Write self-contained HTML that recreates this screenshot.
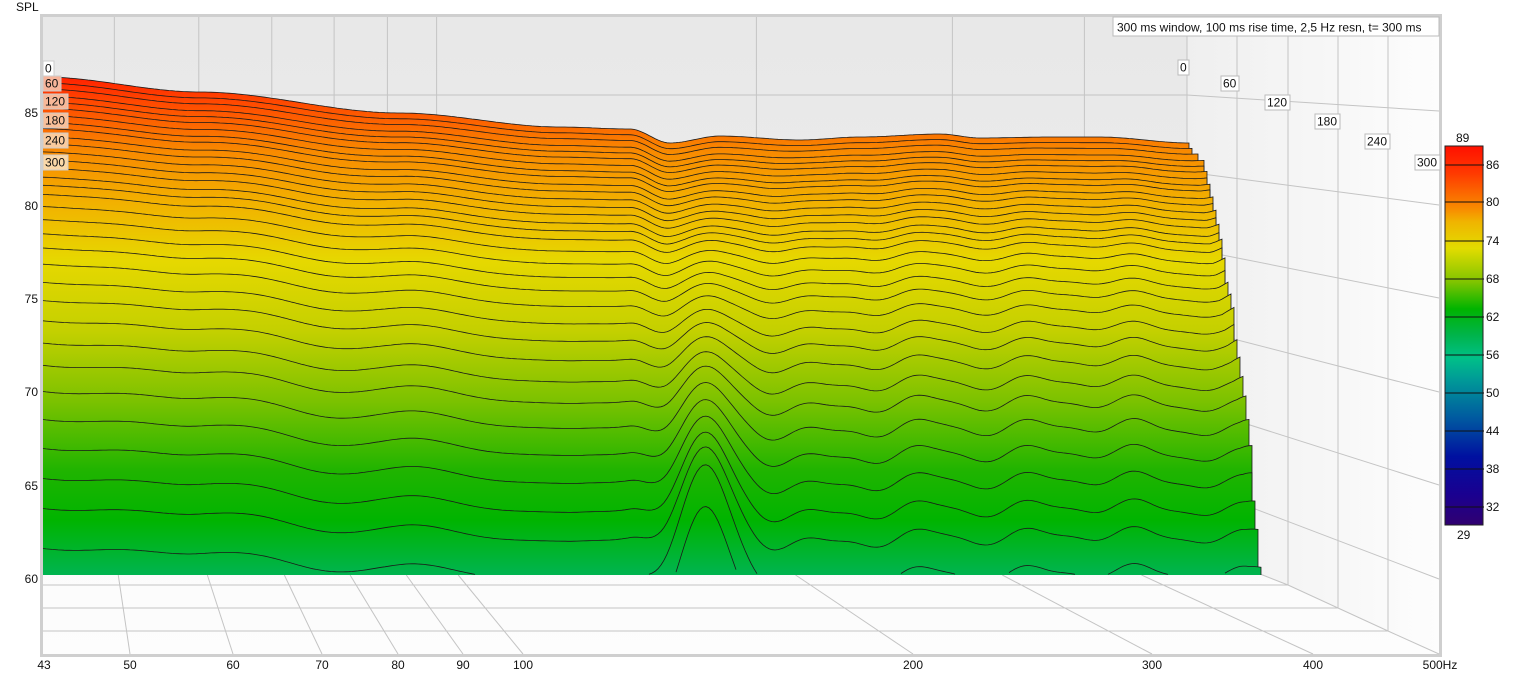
<!DOCTYPE html>
<html><head><meta charset="utf-8"><style>
body{margin:0;background:#fff;width:1516px;height:679px;overflow:hidden;font-family:"Liberation Sans",sans-serif}
svg{position:absolute;left:0;top:0}
text{font-family:"Liberation Sans",sans-serif;font-size:12px;fill:#111}
</style></head><body>
<svg id="s" width="1516" height="679" xmlns="http://www.w3.org/2000/svg">
<defs>
<linearGradient id="sg" gradientUnits="userSpaceOnUse" x1="0" y1="77" x2="0" y2="575">
<stop offset="0" stop-color="#ff2000"/>
<stop offset="0.05" stop-color="#ff4800"/>
<stop offset="0.15" stop-color="#f88a00"/>
<stop offset="0.25" stop-color="#f2b000"/>
<stop offset="0.37" stop-color="#e6d800"/>
<stop offset="0.51" stop-color="#c4d000"/>
<stop offset="0.65" stop-color="#7cc200"/>
<stop offset="0.79" stop-color="#20b400"/>
<stop offset="0.89" stop-color="#00b400"/>
<stop offset="1" stop-color="#00b450"/>
</linearGradient>
<linearGradient id="bw" x1="0" y1="0" x2="0" y2="1"><stop offset="0" stop-color="#e8e8e8"/><stop offset="1" stop-color="#efefef"/></linearGradient>
<linearGradient id="sw" x1="0" y1="0" x2="1" y2="0"><stop offset="0" stop-color="#efefef"/><stop offset="1" stop-color="#fdfdfd"/></linearGradient>
<linearGradient id="fl" x1="0" y1="0" x2="0" y2="1"><stop offset="0" stop-color="#efefef"/><stop offset="1" stop-color="#fdfdfd"/></linearGradient>
<linearGradient id="cb" x1="0" y1="0" x2="0" y2="1">
<stop offset="0" stop-color="#ff1000"/><stop offset="0.07" stop-color="#ff3800"/>
<stop offset="0.17" stop-color="#f89000"/><stop offset="0.2" stop-color="#f0b400"/>
<stop offset="0.27" stop-color="#e2dc00"/><stop offset="0.36" stop-color="#7ec400"/>
<stop offset="0.43" stop-color="#00b400"/><stop offset="0.5" stop-color="#00b44c"/>
<stop offset="0.56" stop-color="#00c088"/><stop offset="0.62" stop-color="#009898"/>
<stop offset="0.72" stop-color="#0058a0"/><stop offset="0.82" stop-color="#0010a0"/>
<stop offset="0.92" stop-color="#1a0090"/><stop offset="1" stop-color="#300070"/>
</linearGradient>
</defs>
<rect x="40" y="14" width="1402" height="643" fill="#cfcfcf"/>
<rect x="43" y="17" width="1396" height="637" fill="url(#fl)"/>
<rect x="43" y="17" width="1144" height="558" fill="url(#bw)"/>
<polygon points="1187,17 1439,17 1439,654 1388,631 1338,608 1288,585 1237,565 1187,545" fill="url(#sw)"/>
<g id="grid" stroke="#c4c4c4" stroke-width="1" fill="none"></g>
<g id="surf"></g>
<g id="lab"></g>
<rect x="1113" y="17" width="326" height="19" fill="#fff" stroke="#bbb"/>
<text x="1117" y="31.5">300 ms window, 100 ms rise time,  2,5 Hz resn, t= 300 ms</text>
<text x="16" y="11">SPL</text>
<g text-anchor="end">
<text x="38" y="117">85</text><text x="38" y="210">80</text><text x="38" y="303">75</text>
<text x="38" y="396">70</text><text x="38" y="490">65</text><text x="38" y="583">60</text>
</g>
<g text-anchor="middle">
<text x="44" y="669">43</text><text x="130" y="669">50</text><text x="233" y="669">60</text>
<text x="322" y="669">70</text><text x="398" y="669">80</text><text x="463" y="669">90</text>
<text x="523" y="669">100</text><text x="913" y="669">200</text><text x="1152" y="669">300</text>
<text x="1313" y="669">400</text><text x="1440" y="669">500Hz</text>
</g>
<rect x="1445" y="146" width="38" height="379" fill="url(#cb)" stroke="#222"/>
<g id="cbl"></g>
</svg>
<script>
var NS="http://www.w3.org/2000/svg";
function el(p,t,a,txt){var e=document.createElementNS(NS,t);for(var k in a)e.setAttribute(k,a[k]);if(txt!==undefined)e.textContent=txt;p.appendChild(e);return e;}
var g=document.getElementById('grid');
[130,233,322,398,463,523,913,1152,1313].forEach(function(x){var xb=43+(x-43)*0.82;el(g,'line',{x1:xb,y1:17,x2:xb,y2:575});});
[1187,1237,1288,1338,1388].forEach(function(x,i){var ye=[545,565,585,608,631][i];el(g,'line',{x1:x,y1:36,x2:x,y2:ye});});
var yf=[111,205,298,392,485],yb=[95,172,248,327,405];
for(var i=0;i<5;i++){el(g,'line',{x1:43,y1:yb[i],x2:1187,y2:yb[i]});el(g,'line',{x1:1187,y1:yb[i],x2:1439,y2:yf[i]});}
el(g,'line',{x1:1187,y1:483,x2:1439,y2:579});
[585,608,631].forEach(function(y,i){el(g,'line',{x1:43,y1:y,x2:[1288,1338,1388][i],y2:y});});
el(g,'polyline',{points:"1187,545 1237,565 1288,585 1338,608 1388,631 1439,654"});
[130,233,322,398,463,523,913,1152,1313].forEach(function(x){el(g,'line',{x1:x,y1:654,x2:43+(x-43)*0.865,y2:575});});
var base=[[43,77],[200,92],[400,113],[560,127],[630,129],[670,143],[720,136],[800,140],[860,137],[940,134],[980,138],[1050,137],[1100,137],[1190,143],[1270,146]];
function B(x){for(var i=1;i<base.length;i++){if(x<=base[i][0]){var a=base[i-1],b=base[i];var t=(x-a[0])/(b[0]-a[0]);t=t*t*(3-2*t);return a[1]+(b[1]-a[1])*t;}}return 146;}
var yl=[77,83,89,96,102,108,115,122,128,136,143,151,159,167,176,184,193,205,218,232,246,262,280,298,318,340,362,388,416,445,475,505,545,590];
var xr=[[143,1190],[160,1204],[200,1215],[300,1232],[400,1248],[575,1262],[700,1266]];
function XR(y){for(var i=1;i<xr.length;i++)if(y<=xr[i][0]){var a=xr[i-1],b=xr[i];return a[1]+(b[1]-a[1])*(y-a[0])/(b[0]-a[0]);}return 1266;}
function W(x){ // irregular ripple
 var r=0.45*Math.sin(2*Math.PI*(x-43)/230+0.4)+0.3*Math.sin(2*Math.PI*(x-43)/140+1.1);
 var m=Math.min(1,Math.max(0,(x-560)/200));
 r=r*(1-m)+m*(0.8*Math.sin(2*Math.PI*(x-760)/108+1.4)+0.25*Math.sin(2*Math.PI*(x-760)/55));
 return r;}
var S=document.getElementById('surf');
for(var k=0;k<yl.length;k++){
 var D=yl[k]-77,yr=143+D*0.92,xe=XR(yr);
 var w=Math.min(1,D/300)*8,M=115*Math.pow(Math.min(1,D/470),2.2);
 var pts=[];
 for(var x=43;x<=xe;x+=3){
  var y=B(x)+D*(1-0.08*(x-43)/1147);
  y+=w*W(x);
  y-=M*Math.exp(-Math.pow((x-705)/36,2));
  if(x>xe-12){y-=(x-(xe-12))*0.3*Math.min(1,D/100);}
  pts.push([x,Math.min(y,575)]);
 }
 var last=pts[pts.length-1];
 var poly=pts.map(function(p){return p[0].toFixed(1)+","+p[1].toFixed(1)}).join(" ")+" "+last[0].toFixed(1)+",575 43,575";
 el(S,'polygon',{points:poly,fill:"url(#sg)"});
 var d="",on=false;
 pts.forEach(function(p){if(p[1]<574.5){d+=(on?"L":"M")+p[0].toFixed(1)+","+p[1].toFixed(1);on=true;}else on=false;});
 if(last[1]<574.5)d+="L"+last[0].toFixed(1)+",575";
 el(S,'path',{d:d,fill:"none",stroke:"#1a1a1a","stroke-width":"0.8"});
}
var L=document.getElementById('lab');
[["0",68,"#fff"],["60",83,"#f7b49a"],["120",101,"#f8b898"],["180",120,"#f9c09a"],["240",140,"#facb9e"],["300",162,"#fbd8a8"]].forEach(function(a){
 var w=a[0].length*7+4;el(L,'rect',{x:43,y:a[1]-7,width:w,height:15,fill:a[2],stroke:"#ccc"});el(L,'text',{x:45,y:a[1]+4.5},a[0]);});
[["0",1178,67],["60",1221,83],["120",1265,102],["180",1315,121],["240",1365,141],["300",1415,162]].forEach(function(a){
 var w=a[0].length*7+4;el(L,'rect',{x:a[1],y:a[2]-7,width:w,height:15,fill:"#fff",stroke:"#bbb"});el(L,'text',{x:a[1]+2,y:a[2]+4.5},a[0]);});
var C=document.getElementById('cbl');
el(C,'text',{x:1456,y:142},"89");el(C,'text',{x:1457,y:539},"29");
[[86,165],[80,202],[74,241],[68,279],[62,317],[56,355],[50,393],[44,431],[38,469],[32,507]].forEach(function(a){
 el(C,'line',{x1:1445,y1:a[1],x2:1484,y2:a[1],stroke:"#111"});el(C,'text',{x:1486,y:a[1]+4},String(a[0]));});
</script>
</body></html>
